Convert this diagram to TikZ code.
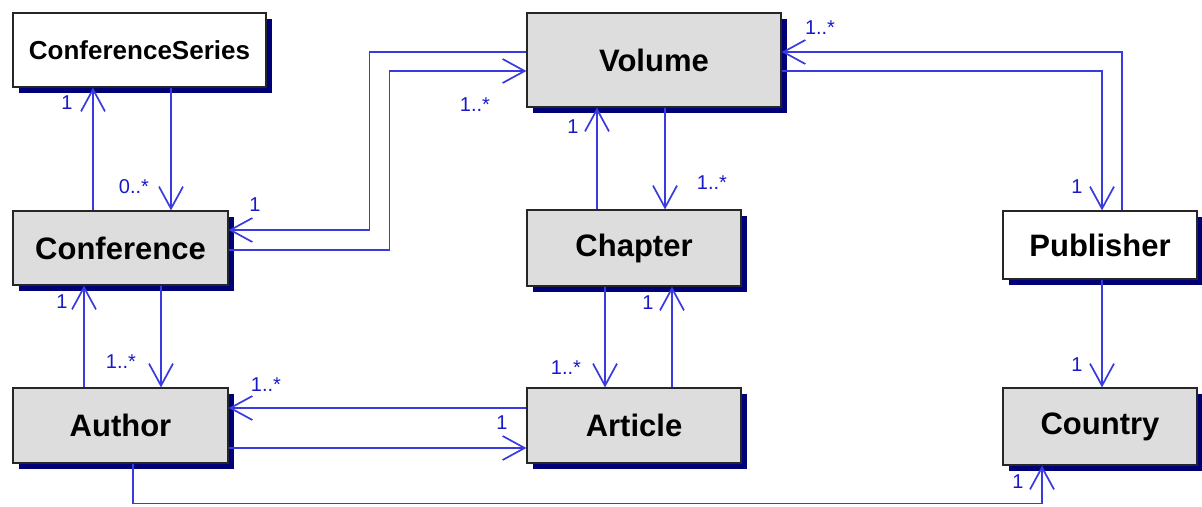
\documentclass[tikz,border=0pt]{standalone}
\usepackage{fontspec}
\setmainfont{Liberation Sans}
\usetikzlibrary{arrows.meta,shadows}
\definecolor{lineblue}{RGB}{58,58,225}
\definecolor{labblue}{RGB}{25,25,200}
\definecolor{boxgray}{RGB}{221,221,221}
\definecolor{navy}{RGB}{0,0,120}
\begin{document}
\begin{tikzpicture}[x=1pt,y=-1pt,
  cls/.style={draw=black!85, line width=1.2pt, fill=boxgray, inner sep=0pt,
    drop shadow={shadow xshift=6pt, shadow yshift=-6pt, fill=navy, opacity=1},
    font=\fontsize{31}{36}\selectfont\bfseries},
  wcls/.style={cls, fill=white},
  assoc/.style={draw=lineblue, line width=1.7pt, -{Straight Barb[length=22pt,width=24pt]}},
  lab/.style={text=labblue, font=\fontsize{20}{23}\selectfont, inner sep=0pt}
]
\useasboundingbox[fill=white] (0,0) rectangle (1202,506);

% classes
\node[wcls, minimum width=253pt, minimum height=74pt, font=\fontsize{26}{30}\selectfont\bfseries] (cs) at (139.5,50) {ConferenceSeries};
\node[cls, minimum width=215pt, minimum height=74pt] (conf) at (120.5,248) {Conference};
\node[cls, minimum width=215pt, minimum height=75pt] (author) at (120.5,425.5) {Author};
\node[cls, minimum width=254pt, minimum height=94pt] (vol) at (654,60) {Volume};
\node[cls, minimum width=214pt, minimum height=76pt] (chap) at (634,248) {Chapter};
\node[cls, minimum width=214pt, minimum height=75pt] (art) at (634,425.5) {Article};
\node[wcls, minimum width=194pt, minimum height=68pt] (pub) at (1100,245) {Publisher};
\node[cls, minimum width=194pt, minimum height=77pt] (country) at (1100,426.5) {Country};

% associations
\draw[assoc] ([xshift=-27.5pt]conf.north) -- ([xshift=-46.5pt]cs.south);
\draw[assoc] ([xshift=31.5pt]cs.south) -- ([xshift=50.5pt]conf.north);
\draw[assoc] ([yshift=8pt]vol.west) -- ++(-157,0) |- ([yshift=18pt]conf.east);
\draw[assoc] ([yshift=-2pt]conf.east) -- ++(161,0) |- ([yshift=-11pt]vol.west);
\draw[assoc] ([xshift=-37pt]chap.north) -- ([xshift=-57pt]vol.south);
\draw[assoc] ([xshift=11pt]vol.south) -- ([xshift=31pt]chap.north);
\draw[assoc] ([xshift=-29pt]chap.south) -- ([xshift=-29pt]art.north);
\draw[assoc] ([xshift=38pt]art.north) -- ([xshift=38pt]chap.south);
\draw[assoc] ([xshift=-36.5pt]author.north) -- ([xshift=-36.5pt]conf.south);
\draw[assoc] ([xshift=40.5pt]conf.south) -- ([xshift=40.5pt]author.north);
\draw[assoc] ([yshift=17.5pt]art.west) -- ([yshift=17.5pt]author.east);
\draw[assoc] ([yshift=-22.5pt]author.east) -- ([yshift=-22.5pt]art.west);
\draw[assoc] ([xshift=22pt]pub.north) |- ([yshift=8pt]vol.east);
\draw[assoc] ([yshift=-11pt]vol.east) -| ([xshift=2pt]pub.north);
\draw[assoc] ([xshift=2pt]pub.south) -- ([xshift=2pt]country.north);
\draw[assoc] ([xshift=12.5pt]author.south) -- ++(0,40) -| ([xshift=-58pt]country.south);

% multiplicities
\node[lab] (m1) at (67,103) {1};
\node[lab] (m2) at (134,187) {0..*};
\node[lab] (m3) at (255,205) {1};
\node[lab] (m4) at (475,105) {1..*};
\node[lab] (m5) at (573,127) {1};
\node[lab] (m6) at (712,183) {1..*};
\node[lab] (m7) at (820,28) {1..*};
\node[lab] (m8) at (1077,187) {1};
\node[lab] (m9) at (648,303) {1};
\node[lab] (m10) at (566,368) {1..*};
\node[lab] (m11) at (62,302) {1};
\node[lab] (m12) at (121,362) {1..*};
\node[lab] (m13) at (266,385) {1..*};
\node[lab] (m14) at (502,423) {1};
\node[lab] (m15) at (1077,365) {1};
\node[lab] (m16) at (1018,482) {1};
\end{tikzpicture}
\end{document}
